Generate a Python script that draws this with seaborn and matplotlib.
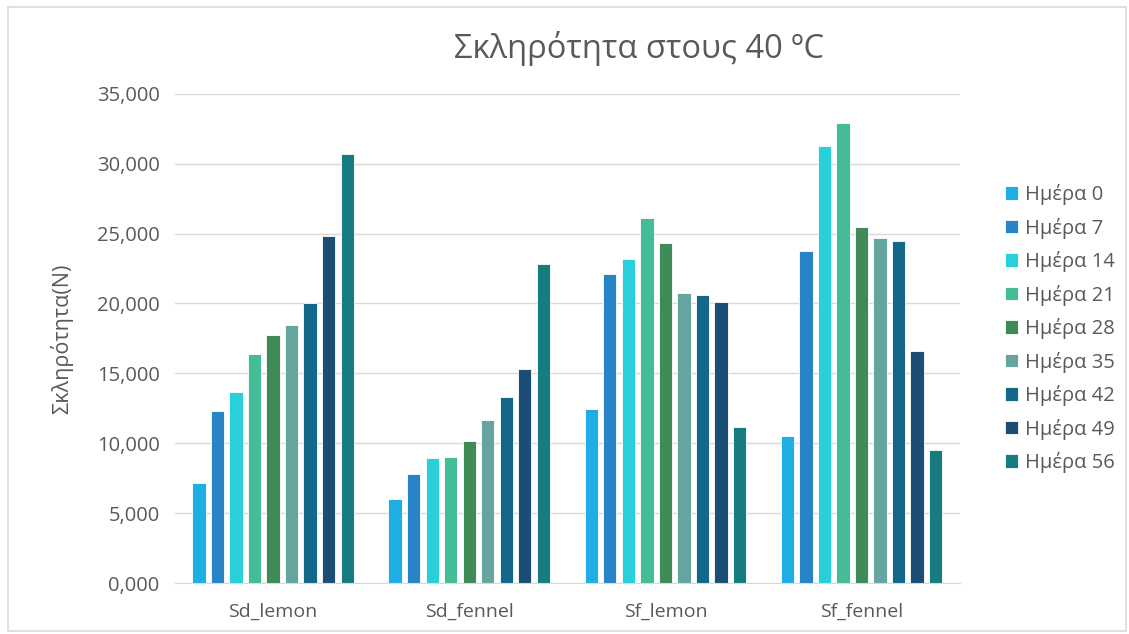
import numpy as np
import pandas as pd
import seaborn as sns
import matplotlib.pyplot as plt
from matplotlib.patches import Rectangle
from matplotlib.ticker import FuncFormatter

samples = ["Sd_lemon", "Sd_fennel", "Sf_lemon", "Sf_fennel"]
days = ["Ημέρα 0", "Ημέρα 7", "Ημέρα 14", "Ημέρα 21", "Ημέρα 28",
        "Ημέρα 35", "Ημέρα 42", "Ημέρα 49", "Ημέρα 56"]

# hardness (N) per day, one value per sample
day0 = [7.16, 5.99, 12.46, 10.55]
day7 = [12.33, 7.80, 22.12, 23.73]
day14 = [13.69, 8.95, 23.15, 31.24]
day21 = [16.41, 9.02, 26.11, 32.90]
day28 = [17.77, 10.14, 24.34, 25.49]
day35 = [18.49, 11.67, 20.76, 24.68]
day42 = [20.06, 13.32, 20.59, 24.44]
day49 = [24.86, 15.32, 20.12, 16.57]
day56 = [30.69, 22.84, 11.17, 9.52]

colors = ["#1FAEE3", "#2784C7", "#29CFD9", "#43BC97", "#3F8A56",
          "#66A59F", "#136889", "#1B4E77", "#177C80"]

series = [day0, day7, day14, day21, day28, day35, day42, day49, day56]
rows = []
for d, vals in zip(days, series):
    for s, v in zip(samples, vals):
        rows.append({"sample": s, "day": d, "value": v})
df = pd.DataFrame(rows)

sns.set_style("white")
plt.rcParams['font.family'] = ['Open Sans', 'DejaVu Sans']
txt = "#595959"

fig = plt.figure(figsize=(11.29, 6.34), dpi=100)
ax = fig.add_axes([0.155, 0.0804, 0.695, 0.7716])

sns.barplot(data=df, x="sample", y="value", hue="day", order=samples,
            hue_order=days, palette=colors, saturation=1, width=0.85, gap=0.28,
            edgecolor="white", linewidth=0.6, ax=ax)

ax.set_ylim(0, 35)
ax.set_xlim(-0.5, 3.5)
ax.set_yticks(np.arange(0, 36, 5))
ax.yaxis.set_major_formatter(FuncFormatter(lambda v, p: f"{v:.3f}".replace(".", ",")))
ax.grid(axis="y", color="#D9D9D9", linewidth=1)
ax.set_axisbelow(True)
for side in ["top", "right", "left"]:
    ax.spines[side].set_visible(False)
ax.spines["bottom"].set_color("#D9D9D9")
ax.tick_params(axis="both", length=0, colors=txt)
ax.tick_params(axis="y", labelsize=14.5, pad=11)
ax.tick_params(axis="x", labelsize=14, pad=14)
ax.set_xlabel("")
ax.set_ylabel("Σκληρότητα(Ν)", fontsize=15.5, color=txt)
ax.yaxis.set_label_coords(-0.13, 0.5)
fig.text(0.566, 0.924, "Σκληρότητα στους 40 ºC", fontsize=23.5, color=txt,
         ha="center", va="center")

leg = ax.legend(loc="center left", bbox_to_anchor=(1.035, 0.52), frameon=False,
                fontsize=14.5, labelcolor=txt, handlelength=0.65, handleheight=0.65,
                handletextpad=0.35, labelspacing=0.62)

fig.patches.append(Rectangle((0.007, 0.005), 0.99, 0.984, transform=fig.transFigure,
                             fill=False, edgecolor="#D9D9D9", linewidth=1.2))

fig.savefig("out.png", dpi=100)
